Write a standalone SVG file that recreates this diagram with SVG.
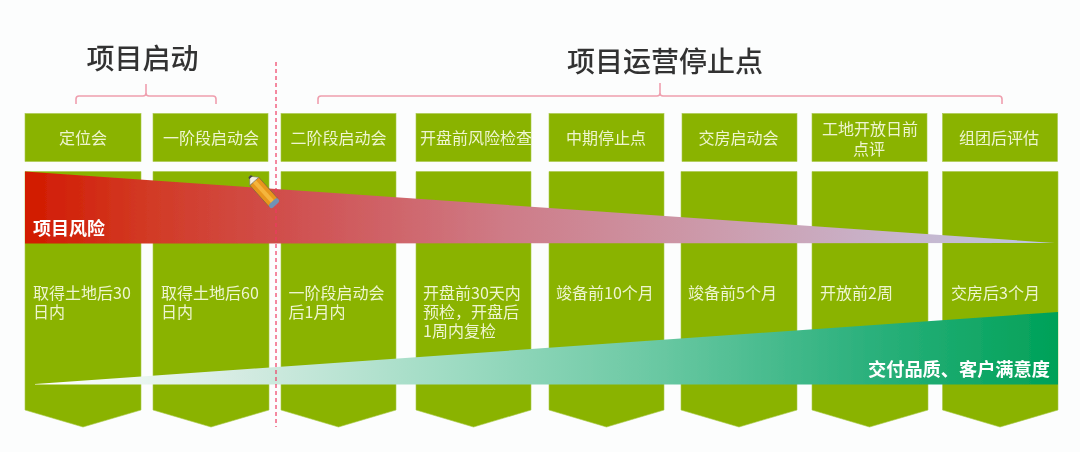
<svg xmlns="http://www.w3.org/2000/svg" width="1080" height="452" viewBox="0 0 1080 452">
<style>
text{font-family:"Noto Sans CJK SC","Noto Sans",sans-serif}
.h{fill:#8ab300;stroke:#a9c94a;stroke-width:.6}
.b{fill:#8ab300;stroke:#a9c94a;stroke-width:.6}
.t{fill:#eef5cf;font-size:16px}
.m{text-anchor:middle}
.w{fill:#fff;font-size:18px;font-weight:700}
.title{fill:#333;font-size:28px;font-weight:500}
.br{fill:none;stroke:#ef9fae;stroke-width:1.6}
</style>
<defs>
<linearGradient id="red" x1="25" y1="0" x2="1055" y2="0" gradientUnits="userSpaceOnUse">
<stop offset="0" stop-color="#d21a00"/><stop offset=".12" stop-color="#d23a25"/><stop offset=".27" stop-color="#d05252"/><stop offset=".47" stop-color="#ce7c88"/><stop offset=".67" stop-color="#cc9bac"/><stop offset=".85" stop-color="#c8b5cd"/><stop offset="1" stop-color="#bcc8e2"/>
</linearGradient>
<linearGradient id="grn" x1="35" y1="0" x2="1058" y2="0" gradientUnits="userSpaceOnUse">
<stop offset="0" stop-color="#fff"/><stop offset=".2" stop-color="#d4ebe2"/><stop offset=".4" stop-color="#a0dcc4"/><stop offset=".6" stop-color="#6cc9a4"/><stop offset=".8" stop-color="#2fb27f"/><stop offset="1" stop-color="#00a158"/>
</linearGradient>
<filter id="soft" x="-2%" y="-2%" width="104%" height="104%"><feGaussianBlur stdDeviation="0.45"/></filter>
</defs>
<rect width="1080" height="452" fill="#fcfdfd"/>
<g filter="url(#soft)">
<g id="title-start"><text class="title m" x="142.500" y="69">项目启动</text></g>
<g id="title-ops"><text class="title m" x="665" y="72">项目运营停止点</text></g>
<g id="connectors">
<path class="br" d="M76 104V99Q76 96 79 96H143Q146 96 146 93V84M146 93Q146 96 149 96H213Q216 96 216 99V104"/>
<path class="br" d="M318 104V99Q318 96 321 96H657Q660 96 660 93V83M660 93Q660 96 663 96H999Q1002 96 1002 99V104"/>
</g>
<g id="col1"><rect class="h" x="25" y="113.500" width="116" height="48"/><text class="t m" x="83" y="143.500">定位会</text>
<path class="b" d="M25 171.500H141V410L83 427L25 410Z"/><text class="t" y="298.500"><tspan x="33">取得土地后30</tspan><tspan x="33" dy="19">日内</tspan></text></g>
<g id="col2"><rect class="h" x="153" y="113.500" width="115" height="48"/><text class="t m" x="211" y="143.500">一阶段启动会</text>
<path class="b" d="M153 171.500H269V410L211 427L153 410Z"/><text class="t" y="298.500"><tspan x="161">取得土地后60</tspan><tspan x="161" dy="19">日内</tspan></text></g>
<g id="col3"><rect class="h" x="281" y="113.500" width="115" height="48"/><text class="t m" x="338.500" y="143.500">二阶段启动会</text>
<path class="b" d="M281 171.500H396V410L338.500 427L281 410Z"/><text class="t" y="298.500"><tspan x="288.500">一阶段启动会</tspan><tspan x="288.500" dy="19">后1月内</tspan></text></g>
<g id="col4"><rect class="h" x="416" y="113.500" width="115" height="48"/><text class="t" x="420" y="143.500">开盘前风险检查</text>
<path class="b" d="M416 171.500H531V410L473.500 427L416 410Z"/><text class="t" y="298.500"><tspan x="423">开盘前30天内</tspan><tspan x="423" dy="19.500">预检，开盘后</tspan><tspan x="423" dy="19">1周内复检</tspan></text></g>
<g id="col5"><rect class="h" x="549" y="113.500" width="115" height="48"/><text class="t m" x="606" y="143.500">中期停止点</text>
<path class="b" d="M549 171.500H664V410L606.500 427L549 410Z"/><text class="t" x="556" y="298.500">竣备前10个月</text></g>
<g id="col6"><rect class="h" x="682" y="113.500" width="115" height="48"/><text class="t m" x="738.500" y="143.500">交房启动会</text>
<path class="b" d="M681 171.500H797V410L739 427L681 410Z"/><text class="t" x="688" y="298.500">竣备前5个月</text></g>
<g id="col7"><rect class="h" x="812" y="113.500" width="115" height="48"/><text class="t m" y="135"><tspan x="870">工地开放日前</tspan><tspan x="869" dy="20">点评</tspan></text>
<path class="b" d="M812 171.500H928V410L869.500 427L812 410Z"/><text class="t" x="820" y="298.500">开放前2周</text></g>
<g id="col8"><rect class="h" x="942.500" y="113.500" width="115" height="48"/><text class="t m" x="999" y="143.500">组团后评估</text>
<path class="b" d="M942.500 171.500H1058V410L1000 427L942.500 410Z"/><text class="t" x="951" y="298.500">交房后3个月</text></g>
<g id="risk"><path d="M25 171.500L276 189L1055 243L25 243.500Z" fill="url(#red)"/><text class="w" x="33" y="235">项目风险</text></g>
<g id="quality"><path d="M35 384L1058 312V384.500L35 384.500Z" fill="url(#grn)"/><text class="w" x="868" y="376" style="font-size:18.200px">交付品质、客户满意度</text></g>
<g id="divider"><line x1="276" y1="62" x2="276" y2="427" stroke="#ee3a62" stroke-width="1.200" stroke-dasharray="4 3"/></g>
<g id="pencil" transform="translate(263 191) rotate(48)">
<rect x="-13" y="-6" width="28" height="12" fill="#e8961e" stroke="#8a6a3a" stroke-width=".8"/>
<rect x="-13" y="-2" width="28" height="4" fill="#f5b53c"/>
<path d="M-13 -6L-20 0L-13 6Z" fill="#f4f1e6" stroke="#777" stroke-width=".6"/>
<path d="M-20 -1.500L-18 -2.500V2.500L-20 1.500Z" fill="#444"/>
<rect x="14" y="-6" width="5" height="12" rx="2.500" fill="#6f93b5"/>
</g>
</g>
</svg>
